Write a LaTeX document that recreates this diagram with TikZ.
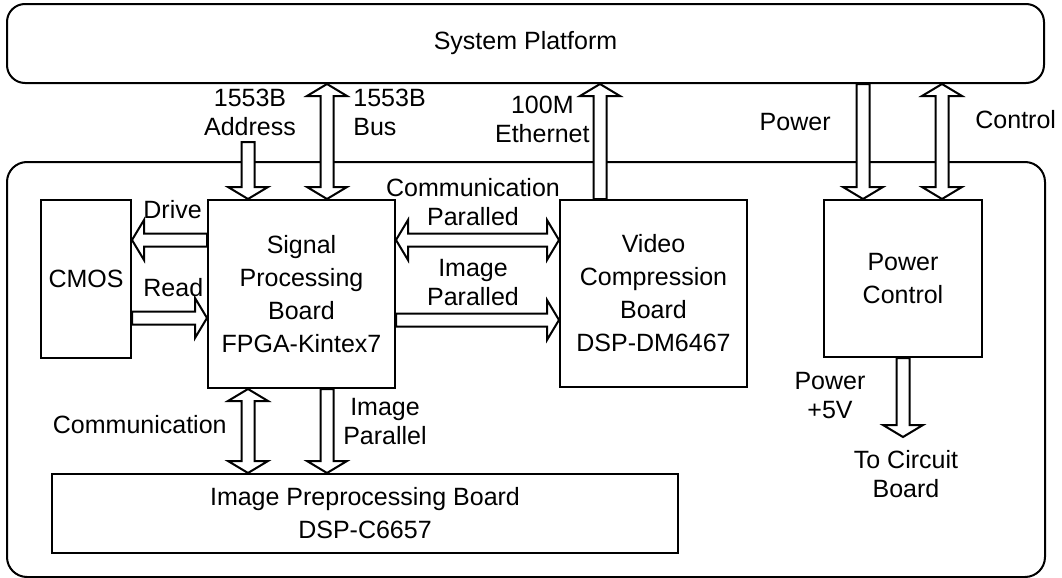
\documentclass[tikz,border=0pt]{standalone}
\usepackage{fontspec}
\setmainfont{Liberation Sans}
\usetikzlibrary{calc}
\newcommand{\arrsw}{3.25pt}
\newcommand{\arrhw}{10pt}
\newcommand{\arrhl}{6pt}
\newcommand{\boxfont}{\fontsize{12.5}{16.5}\selectfont}
\newcommand{\lblfont}{\fontsize{12.5}{14.5}\selectfont}
\tikzset{
  blk/.style={draw, line width=1pt, align=center, inner sep=0pt, font=\boxfont},
  frm/.style={blk, rounded corners=9pt},
  lbl/.style={align=center, inner sep=0pt, font=\lblfont},
  hollow/.style={draw, fill=white, line width=1pt, to path={
    let \p1=(\tikztostart), \p2=(\tikztotarget),
        \n1={veclen(\x2-\x1,\y2-\y1)}, \n2={atan2(\y2-\y1,\x2-\x1)} in
    {[shift={(\p1)}, rotate=\n2]
      (0pt,-\arrsw) -- ({\n1-\arrhl},-\arrsw) -- ({\n1-\arrhl},-\arrhw) -- ({\n1+0pt},0pt)
      -- ({\n1-\arrhl},\arrhw) -- ({\n1-\arrhl},\arrsw) -- (0pt,\arrsw) -- cycle}}},
  hollowboth/.style={draw, fill=white, line width=1pt, to path={
    let \p1=(\tikztostart), \p2=(\tikztotarget),
        \n1={veclen(\x2-\x1,\y2-\y1)}, \n2={atan2(\y2-\y1,\x2-\x1)} in
    {[shift={(\p1)}, rotate=\n2]
      (0pt,0pt) -- (\arrhl,\arrhw) -- (\arrhl,\arrsw) -- ({\n1-\arrhl},\arrsw)
      -- ({\n1-\arrhl},\arrhw) -- ({\n1+0pt},0pt) -- ({\n1-\arrhl},-\arrhw)
      -- ({\n1-\arrhl},-\arrsw) -- (\arrhl,-\arrsw) -- (\arrhl,-\arrhw) -- cycle}}}
}

\begin{document}
\begin{tikzpicture}[x=0.5pt, y=-0.5pt]
  \useasboundingbox (0,0) rectangle (1062,578);
  \node[frm, minimum width=518.5pt, minimum height=39.5pt] (plat) at (525.5,43.5) {System Platform};
  \node[frm, rounded corners=10pt, minimum width=519pt, minimum height=207.5pt] (unit) at (526,369.5) {};
  \node[blk, minimum width=45pt, minimum height=79pt] (cmos) at (86,279) {CMOS};
  \node[blk, minimum width=93.5pt, minimum height=94pt] (spb) at (301.5,294) {Signal\\Processing\\Board\\FPGA-Kintex7};
  \node[blk, minimum width=93.5pt, minimum height=93.5pt] (vcb) at (653.5,293.5) {Video\\Compression\\Board\\DSP-DM6467};
  \node[blk, minimum width=79pt, minimum height=78.5pt] (pwr) at (903,278.5) {Power\\Control};
  \node[blk, minimum width=313pt, minimum height=39.5pt] (ipb) at (365,513.5) {Image Preprocessing Board\\DSP-C6657};
  \node[lbl, anchor=north, inner sep=6.5pt] (cb) at (906,437) {To Circuit\\Board};

  \coordinate (lnA) at (248,0);
  \coordinate (lnB) at (327,0);
  \coordinate (lnE) at (600,0);
  \coordinate (lnP) at (863,0);
  \coordinate (lnC) at (942,0);
  \coordinate (lnD) at (0,240);
  \coordinate (lnR) at (0,318);
  \coordinate (lnI) at (0,320);
  \coordinate (adrin) at (248,142);

  \draw[hollow] (adrin) to (adrin |- spb.north);
  \draw[hollowboth] (lnB |- plat.south) to (lnB |- spb.north);
  \draw[hollow] (lnE |- vcb.north) to (lnE |- plat.south);
  \draw[hollow] (lnP |- plat.south) to (lnP |- pwr.north);
  \draw[hollowboth] (lnC |- plat.south) to (lnC |- pwr.north);
  \draw[hollow] (spb.west |- lnD) to (cmos.east |- lnD);
  \draw[hollow] (cmos.east |- lnR) to (spb.west |- lnR);
  \draw[hollowboth] (spb.east |- lnD) to (vcb.west |- lnD);
  \draw[hollow] (spb.east |- lnI) to (vcb.west |- lnI);
  \draw[hollowboth] (lnA |- spb.south) to (lnA |- ipb.north);
  \draw[hollow] (lnB |- spb.south) to (lnB |- ipb.north);
  \draw[hollow] (pwr.south) to (pwr.south |- cb.north);

  \node[lbl] (adrl) at (250,112) {1553B\\Address};
  \node[lbl, align=left, anchor=west] (busl) at (353,112) {1553B\\Bus};
  \node[lbl, anchor=east] (ethl) at (590,119) {100M\\Ethernet};
  \node[lbl, anchor=east] (pinl) at (831,122) {Power};
  \node[lbl, anchor=west] (ctll) at (975,120) {Control};
  \node[lbl, anchor=west] (drvl) at (143,210) {Drive};
  \node[lbl, anchor=west] (rdl) at (143,288) {Read};
  \node[lbl] (cpl) at (473,202) {Communication\\Paralled};
  \node[lbl] (ipl) at (473,283) {Image\\Paralled};
  \node[lbl, anchor=east] (cml) at (227,425) {Communication};
  \node[lbl] (ipdl) at (385,422) {Image\\Parallel};
  \node[lbl] (p5l) at (830,396) {Power\\+5V};
\end{tikzpicture}
\end{document}
